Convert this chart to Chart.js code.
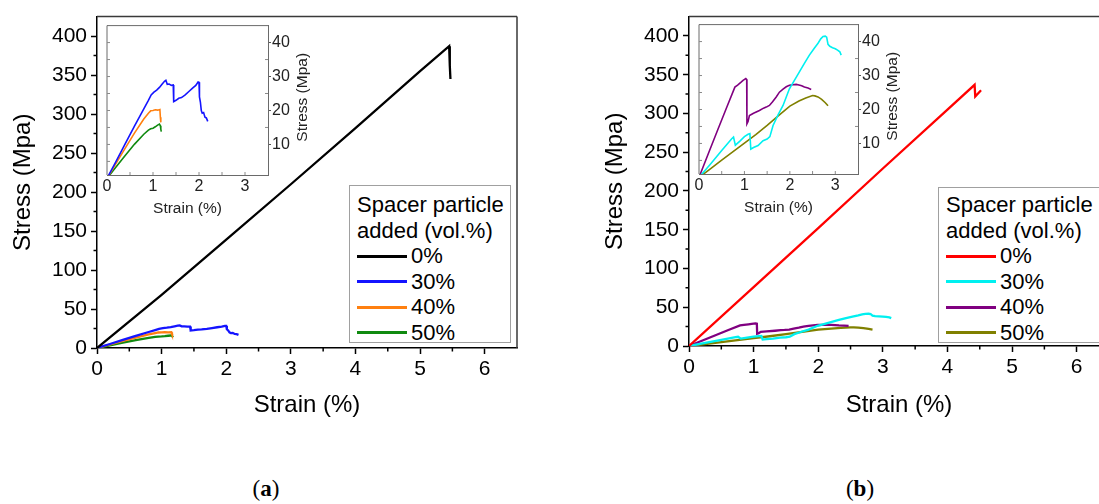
<!DOCTYPE html>
<html><head><meta charset="utf-8">
<script src="https://cdn.jsdelivr.net/npm/chart.js@4.4.1/dist/chart.umd.min.js"></script>
<style>
html,body{margin:0;padding:0;background:#fff;}
body{width:1099px;height:504px;overflow:hidden;position:relative;font-family:"Liberation Sans",Arial,sans-serif;}
canvas{position:absolute;}
.legend{position:absolute;border:1px solid #a0a0a0;background:#fff;color:#000;font-size:22px;box-sizing:border-box;overflow:hidden;}
.legend .t{position:absolute;white-space:nowrap;line-height:26px;height:26px;}
.legend .ln{position:absolute;height:3px;}
.panel{position:absolute;width:60px;text-align:center;font-family:"Liberation Serif","DejaVu Serif",serif;font-size:23px;line-height:26px;color:#000;}
</style></head>
<body>
<canvas id="mainA" width="540" height="420" style="left:0;top:0"></canvas>
<canvas id="insetA" width="225" height="205" style="left:100px;top:15px"></canvas>
<canvas id="mainB" width="540" height="420" style="left:592px;top:0"></canvas>
<canvas id="insetB" width="225" height="205" style="left:692px;top:14px"></canvas>
<div id="legA" class="legend" style="left:349px;top:185px;width:162px;height:158px"></div>
<div id="legB" class="legend" style="left:938px;top:187px;width:170px;height:156px"></div>
<div class="panel" style="left:236px;top:476px">(<b>a</b>)</div>
<div class="panel" style="left:830px;top:476px">(<b>b</b>)</div>
<script>
// ---------- data ----------
const seriesLabels = ['0%', '30%', '40%', '50%'];
const legendTitle = ['Spacer particle', 'added (vol.%)'];
const colorsA = ['#000000', '#1414ff', '#ff8010', '#108a10'];
const colorsB = ['#ff0000', '#00f0f0', '#800080', '#808000'];

const xTicksMain = [0, 1, 2, 3, 4, 5, 6];
const yTicksMain = [0, 50, 100, 150, 200, 250, 300, 350, 400];
const xTicksInset = [0, 1, 2, 3];
const yTicksInset = [10, 20, 30, 40];

// panel (a)
const strainA0 = [0, 1, 2, 3, 4, 5, 5.45, 5.46, 5.47];
const stressA0 = [0, 68, 139, 210, 282, 355, 387, 362, 345];
const strainA30 = [0, 0.2, 0.4, 0.6, 0.8, 0.9, 0.96, 1.02, 1.08, 1.14, 1.2, 1.25, 1.28, 1.31, 1.35, 1.4, 1.44, 1.45, 1.5, 1.56, 1.62, 1.7, 1.78, 1.86, 1.93, 1.98, 2.0, 2.01, 2.03, 2.05, 2.07, 2.1, 2.13, 2.16, 2.19];
const stressA30 = [0, 5.1, 10.3, 15.5, 20.5, 23.0, 24.6, 25.4, 26.0, 26.8, 27.8, 28.6, 28.9, 27.7, 27.8, 27.4, 27.5, 22.6, 23.0, 23.6, 23.8, 24.6, 25.6, 26.6, 27.4, 28.4, 28.3, 24.0, 22.5, 20.0, 19.2, 19.4, 18.0, 17.8, 16.8];
const strainA40 = [0, 0.2, 0.4, 0.6, 0.8, 0.9, 0.95, 1.0, 1.05, 1.1, 1.15, 1.16, 1.17];
const stressA40 = [0, 4.5, 9.0, 13.4, 17.5, 19.2, 19.9, 20.0, 20.2, 20.1, 20.3, 18.0, 16.5];
const strainA50 = [0, 0.2, 0.4, 0.6, 0.8, 0.9, 0.95, 1.0, 1.05, 1.1, 1.14, 1.16, 1.17, 1.18];
const stressA50 = [0, 3.4, 6.8, 10.1, 13.0, 14.2, 14.6, 14.8, 15.2, 15.7, 16.0, 15.5, 14.5, 13.8];

// panel (b)
const strainB0 = [0, 1, 2, 3, 4, 4.42, 4.43, 4.52];
const stressB0 = [0, 76, 152, 229, 305, 337, 322, 330];
const strainB30 = [0, 0.25, 0.5, 0.72, 0.76, 0.8, 0.9, 1.0, 1.08, 1.12, 1.14, 1.2, 1.3, 1.41, 1.5, 1.56, 1.63, 1.74, 1.85, 1.99, 2.1, 2.21, 2.32, 2.43, 2.53, 2.62, 2.68, 2.73, 2.78, 2.81, 2.84, 2.88, 2.94, 3.0, 3.05, 3.1, 3.13];
const stressB30 = [0, 3.9, 7.9, 11.4, 11.9, 9.5, 10.7, 12.0, 12.7, 12.9, 8.3, 8.8, 9.4, 10.8, 11.3, 12.0, 15.3, 18.4, 21.2, 26.1, 28.6, 31.1, 33.6, 36.0, 37.9, 39.5, 40.8, 41.5, 41.6, 41.3, 39.2, 38.6, 38.2, 37.9, 37.5, 37.0, 36.0];
const strainB40 = [0, 0.2, 0.4, 0.6, 0.79, 0.85, 0.92, 0.97, 1.03, 1.05, 1.055, 1.08, 1.11, 1.2, 1.33, 1.42, 1.48, 1.55, 1.62, 1.7, 1.77, 1.85, 1.92, 1.99, 2.06, 2.14, 2.2, 2.26, 2.32, 2.4, 2.47];
const stressB40 = [0, 6.8, 13.6, 20.3, 26.6, 27.2, 28.0, 28.6, 29.1, 28.8, 15.8, 16.5, 18.2, 18.9, 19.7, 20.4, 20.7, 21.2, 22.3, 23.7, 25.1, 26.0, 26.7, 27.1, 27.3, 27.4, 27.2, 27.0, 26.6, 26.3, 25.9];
const strainB50 = [0, 0.25, 0.5, 0.75, 1.0, 1.25, 1.5, 1.75, 2.0, 2.2, 2.35, 2.5, 2.55, 2.62, 2.7, 2.78, 2.84];
const stressB50 = [0, 2.5, 5.1, 7.6, 10.1, 12.6, 15.3, 18.2, 21.0, 22.5, 23.4, 24.1, 24.0, 23.7, 23.0, 22.0, 21.1];

// ---------- helpers ----------
const FONT = '"Liberation Sans", Arial, sans-serif';
function pts(xs, ys) { return xs.map((x, i) => ({ x: x, y: ys[i] })); }
function makeSets(list, colors, width) {
  return list.map((p, i) => ({
    label: seriesLabels[i], data: pts(p[0], p[1]), borderColor: colors[i],
    backgroundColor: colors[i], borderWidth: width, showLine: true, pointRadius: 0, tension: 0, fill: false
  }));
}
function fixedTicks(arr) { return s => { s.ticks = arr.map(v => ({ value: v })); }; }

const deco = {
  id: 'deco',
  beforeDraw(chart, args, o) {
    if (!o.whiteBg) return;
    const a = chart.chartArea, ctx = chart.ctx;
    ctx.save(); ctx.fillStyle = '#fff'; ctx.fillRect(a.left, a.top, a.right - a.left, a.bottom - a.top); ctx.restore();
  },
  afterDraw(chart, args, o) {
    const ctx = chart.ctx, a = chart.chartArea, xs = chart.scales.x, ys = chart.scales.y;
    ctx.save();
    // frame
    ctx.strokeStyle = o.frameColor; ctx.lineWidth = o.frameWidth;
    ctx.beginPath();
    if (o.frame.includes('top')) { ctx.moveTo(a.left, a.top); ctx.lineTo(a.right, a.top); }
    if (o.frame.includes('right')) { ctx.moveTo(a.right, a.top); ctx.lineTo(a.right, a.bottom); }
    if (o.frame.includes('left')) { ctx.moveTo(a.left, a.top); ctx.lineTo(a.left, a.bottom); }
    ctx.stroke();
    // minor / extra ticks
    ctx.strokeStyle = o.tickColor; ctx.lineWidth = o.tickWidth;
    ctx.beginPath();
    (o.xMinor || []).forEach(v => { const p = xs.getPixelForValue(v); ctx.moveTo(p, a.bottom); ctx.lineTo(p, a.bottom + o.xMinorLen); });
    (o.yMinor || []).forEach(v => { const p = ys.getPixelForValue(v); ctx.moveTo(a.left, p); ctx.lineTo(a.left + o.yMinorLen, p); });
    (o.yRightMinor || []).forEach(v => { const p = ys.getPixelForValue(v); ctx.moveTo(a.right, p); ctx.lineTo(a.right - 3, p); });
    ctx.stroke();
    // rotated right title
    if (o.rightTitle) {
      ctx.fillStyle = o.rightTitle.color; ctx.font = o.rightTitle.font;
      ctx.textAlign = 'center'; ctx.textBaseline = 'middle';
      ctx.translate(a.right + o.rightTitle.dx, (a.top + a.bottom) / 2 + o.rightTitle.dy);
      ctx.rotate(-Math.PI / 2);
      ctx.fillText(o.rightTitle.text, 0, 0);
    }
    ctx.restore();
  }
};
Chart.register(deco);

function mainChart(id, sets, padRight, yWidth, xAxisY, canvasH) {
  return new Chart(document.getElementById(id), {
    type: 'scatter',
    data: { datasets: sets },
    options: {
      responsive: false, animation: false, devicePixelRatio: 1,
      layout: { padding: { top: 13, right: padRight, left: 0, bottom: 0 } },
      plugins: {
        legend: { display: false }, tooltip: { enabled: false },
        deco: {
          frame: ['top', 'right'], frameColor: '#3a3a3a', frameWidth: 1.5,
          tickColor: '#000', tickWidth: 1.5,
          xMinor: [0.5, 1.5, 2.5, 3.5, 4.5, 5.5], xMinorLen: 3.5,
          yMinor: [25, 75, 125, 175, 225, 275, 325, 375], yMinorLen: -3.5
        }
      },
      scales: {
        x: {
          type: 'linear', min: 0, max: 6.5,
          afterBuildTicks: fixedTicks(xTicksMain),
          afterFit: s => { s.height = canvasH - xAxisY; },
          grid: { drawOnChartArea: false, drawTicks: true, tickLength: 6, tickColor: '#000', tickWidth: 1.5 },
          border: { display: true, color: '#000', width: 1.5 },
          ticks: { color: '#000', font: { family: FONT, size: 21 }, padding: 3, maxRotation: 0, autoSkip: false },
          title: { display: true, text: 'Strain (%)', color: '#000', font: { family: FONT, size: 24 }, padding: { top: 0, bottom: 0 } }
        },
        y: {
          type: 'linear', min: 0, max: 425,
          afterBuildTicks: fixedTicks(yTicksMain),
          afterFit: s => { s.width = yWidth; },
          grid: { drawOnChartArea: false, drawTicks: true, tickLength: 6, tickColor: '#000', tickWidth: 1.5 },
          border: { display: true, color: '#000', width: 1.5 },
          ticks: { color: '#000', font: { family: FONT, size: 21 }, padding: 4, autoSkip: false },
          title: { display: true, text: 'Stress (Mpa)', color: '#000', font: { family: FONT, size: 24 }, padding: { top: 9, bottom: 0 } }
        }
      }
    }
  });
}

function insetChart(id, sets, padLeft, padTop, rightW, bottomH) {
  return new Chart(document.getElementById(id), {
    type: 'scatter',
    data: { datasets: sets },
    options: {
      responsive: false, animation: false, devicePixelRatio: 1,
      layout: { padding: { top: padTop, left: padLeft, right: 0, bottom: 0 } },
      plugins: {
        legend: { display: false }, tooltip: { enabled: false },
        deco: {
          whiteBg: true,
          frame: ['top', 'left'], frameColor: '#6a6a6a', frameWidth: 1,
          tickColor: '#8a8a8a', tickWidth: 1,
          xMinor: [0.5, 1, 1.5, 2, 2.5, 3], xMinorLen: -3,
          yMinor: [5, 10, 15, 20, 25, 30, 35, 40], yMinorLen: 3,
          yRightMinor: [15, 25, 35],
          rightTitle: { text: 'Stress (Mpa)', color: '#222', font: '15.5px ' + FONT, dx: 35, dy: -3 }
        }
      },
      scales: {
        x: {
          type: 'linear', min: 0, max: 3.5,
          afterBuildTicks: fixedTicks(xTicksInset),
          afterFit: s => { s.height = bottomH; },
          grid: { drawOnChartArea: false, drawTicks: false },
          border: { display: true, color: '#6a6a6a', width: 1 },
          ticks: { color: '#222', font: { family: FONT, size: 16 }, padding: 2.4, maxRotation: 0, autoSkip: false },
          title: { display: true, text: 'Strain (%)', color: '#222', font: { family: FONT, size: 15.5 }, padding: { top: 0, bottom: 2.4 } }
        },
        y: {
          type: 'linear', position: 'right', min: 1, max: 45,
          afterBuildTicks: fixedTicks(yTicksInset),
          afterFit: s => { s.width = rightW; },
          grid: { drawOnChartArea: false, drawTicks: true, tickLength: 3, tickColor: '#555', tickWidth: 1 },
          border: { display: true, color: '#6a6a6a', width: 1 },
          ticks: { color: '#222', font: { family: FONT, size: 16 }, padding: 1, autoSkip: false },
          title: { display: false }
        }
      }
    }
  });
}

const dataA = [[strainA0, stressA0], [strainA30, stressA30], [strainA40, stressA40], [strainA50, stressA50]];
const dataB = [[strainB0, stressB0], [strainB30, stressB30], [strainB40, stressB40], [strainB50, stressB50]];

mainChart('mainA', makeSets(dataA, colorsA, 2.3), 540 - 517, 97, 348, 420);
insetChart('insetA', makeSets(dataA.slice(1), colorsA.slice(1), 1.6), 7, 10, 225 - 168, 45);
mainChart('mainB', makeSets(dataB, colorsB, 2.3), 540 - 517, 97, 346, 420);
insetChart('insetB', makeSets(dataB.slice(1), colorsB.slice(1), 1.6), 7, 10, 225 - 166, 45);

// ---------- HTML legends built from the same series ----------
function buildLegend(id, colors, tops) {
  const el = document.getElementById(id);
  const boxTop = el.offsetTop;
  legendTitle.forEach((t, i) => {
    const d = document.createElement('div'); d.className = 't';
    d.style.left = '7px'; d.style.top = (tops[i] - 13 - boxTop) + 'px'; d.textContent = t; el.appendChild(d);
  });
  seriesLabels.forEach((t, i) => {
    const c = tops[i + 2] - boxTop;
    const ln = document.createElement('div'); ln.className = 'ln';
    ln.style.left = '7px'; ln.style.width = '50px'; ln.style.top = (c - 1.5) + 'px'; ln.style.background = colors[i];
    el.appendChild(ln);
    const d = document.createElement('div'); d.className = 't';
    d.style.left = '61px'; d.style.top = (c - 13) + 'px'; d.textContent = t; el.appendChild(d);
  });
}
const legendRowCentres = [204, 229.5, 255, 280.5, 306, 331.5];
buildLegend('legA', colorsA, legendRowCentres);
buildLegend('legB', colorsB, legendRowCentres);
</script>
</body></html>
